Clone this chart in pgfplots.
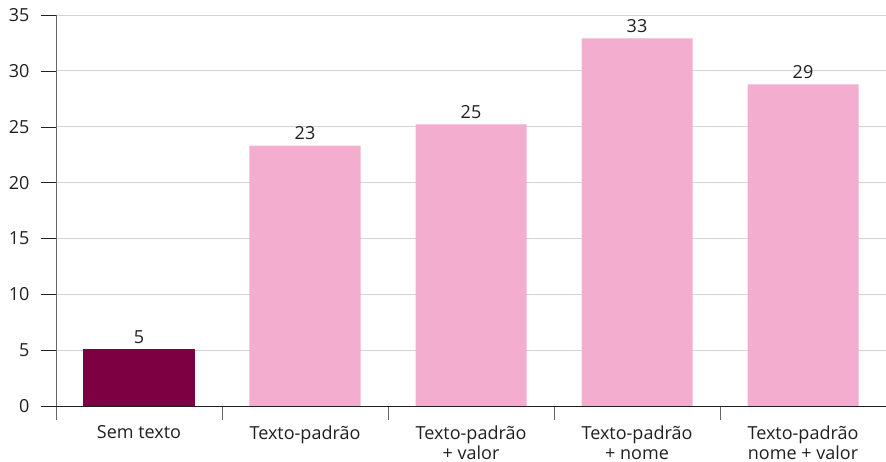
\documentclass[border=0pt]{standalone}
\usepackage{pgfplots}
\pgfplotsset{compat=1.18}
\usepackage{fontspec}
\setmainfont{Open Sans}
\definecolor{darkbar}{RGB}{124,0,66}
\definecolor{pinkbar}{RGB}{243,173,207}
\definecolor{gridc}{RGB}{212,212,212}
\definecolor{txt}{RGB}{35,31,32}
\begin{document}
\begin{tikzpicture}
\begin{axis}[
  at={(0,0)}, anchor=south west,
  scale only axis,
  width=830pt, height=391pt,
  xmin=-0.5, xmax=4.5,
  ymin=0, ymax=35,
  ytick={0,5,...,35},
  xtick={0,1,2,3,4},
  xticklabels={Sem texto, Texto-padrão, {Texto-padrão\\+ valor}, {Texto-padrão\\+ nome}, {Texto-padrão\\nome + valor}},
  minor xtick={-0.5,0.5,1.5,2.5,3.5},
  /pgf/number format/assume math mode=true,
  axis lines=left,
  axis line style={-},
  x axis line style={draw=txt},
  y axis line style={draw=black!60},
  tick align=outside,
  major tick length=15pt,
  minor tick length=14pt,
  major x tick style={draw=none},
  minor x tick style={draw=black!60, line width=0.6pt},
  ytick style={draw=txt},
  ymajorgrids,
  grid style={draw=gridc, line width=0.8pt},
  ybar, bar width=111pt, bar shift=0pt,
  tick label style={font=\fontsize{18}{20}\selectfont, text=txt},
  xticklabel style={align=center, anchor=north, yshift=-1pt},
  yticklabel style={anchor=east, xshift=-8pt},
  nodes near coords,
  point meta=explicit symbolic,
  every node near coord/.append style={font=\fontsize{18}{19}\selectfont, text=txt, anchor=south, yshift=2pt},
]
\addplot[fill=darkbar, draw=none] table[x=x, y=y, meta=l] {
x y l
0 5.1 5
};
\addplot[fill=pinkbar, draw=none] table[x=x, y=y, meta=l] {
x y l
1 23.3 23
2 25.2 25
3 32.9 33
4 28.8 29
};
\end{axis}
\pgfresetboundingbox
\path (-56pt,-56pt) rectangle (830pt,406pt);
\end{tikzpicture}
\end{document}
